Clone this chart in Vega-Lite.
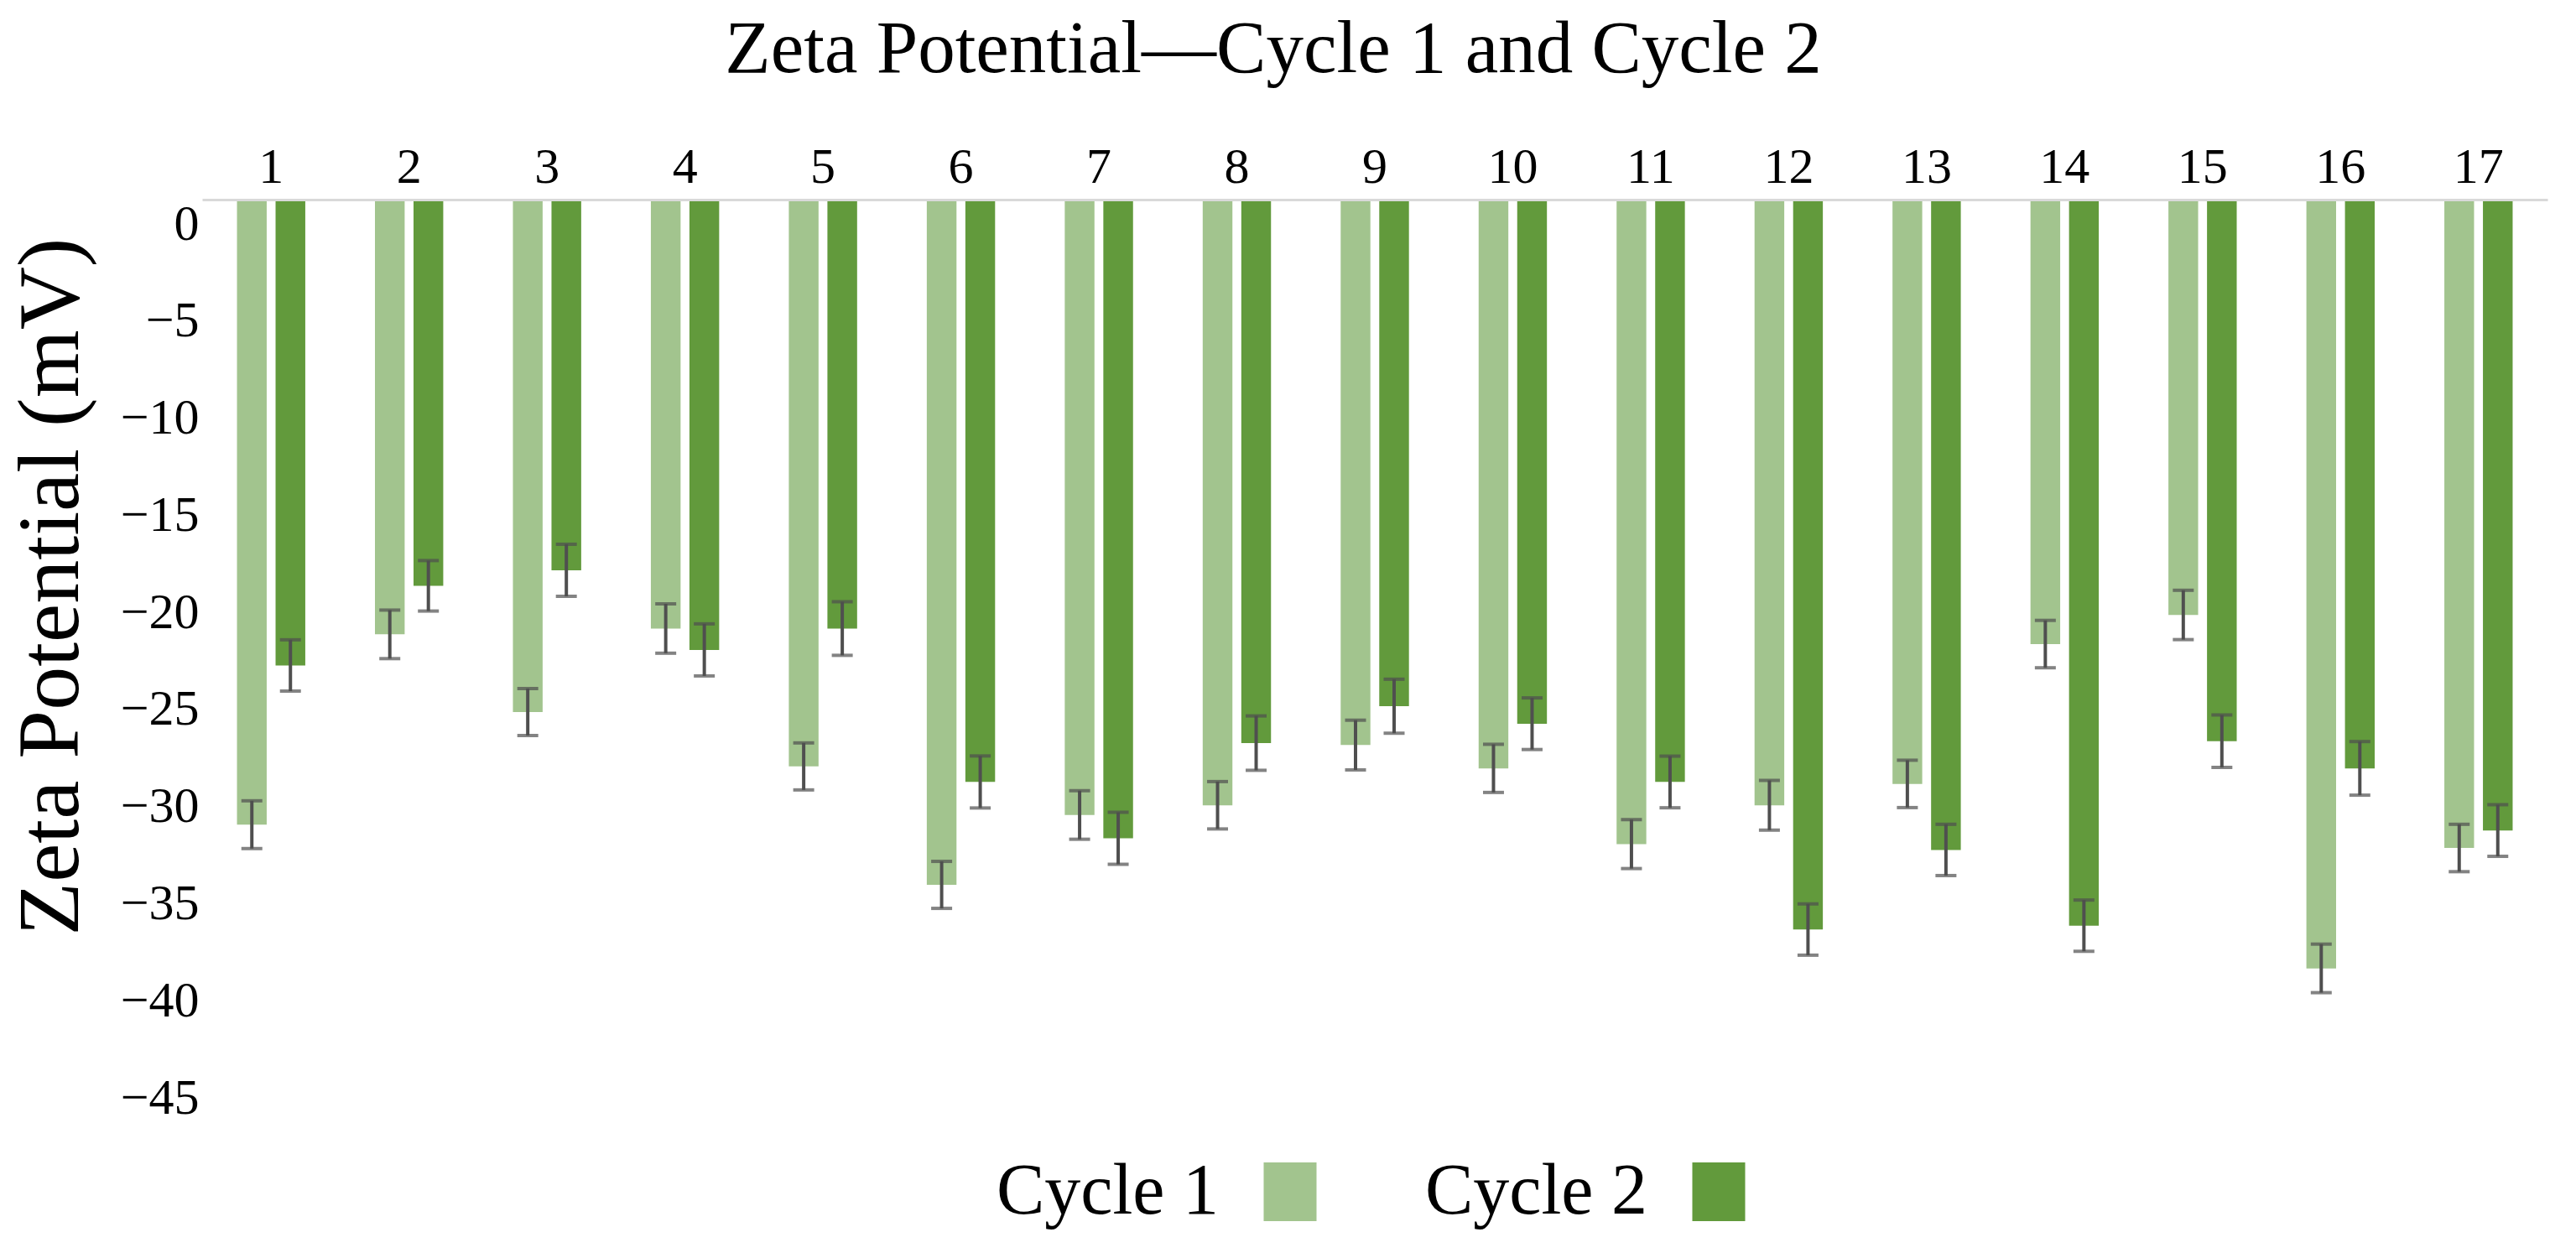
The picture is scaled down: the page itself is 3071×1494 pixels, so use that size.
{
  "$schema": "https://vega.github.io/schema/vega-lite/v6.json",
  "width": 2796,
  "height": 1042,
  "autosize": "none",
  "padding": {"left": 241, "top": 240, "right": 34, "bottom": 212},
  "background": "white",
  "title": {
    "text": "Zeta Potential—Cycle 1 and Cycle 2",
    "font": "Liberation Serif",
    "fontSize": 89,
    "fontWeight": "normal",
    "color": "black",
    "anchor": "middle",
    "frame": "group",
    "dx": -121,
    "baseline": "alphabetic",
    "offset": -6
  },
  "data": {
    "values": [
      {"sample": 1, "cycle": "Cycle 1", "value": -32.1, "lo": -33.33, "hi": -30.87},
      {"sample": 1, "cycle": "Cycle 2", "value": -23.9, "lo": -25.22, "hi": -22.58},
      {"sample": 2, "cycle": "Cycle 1", "value": -22.3, "lo": -23.55, "hi": -21.05},
      {"sample": 2, "cycle": "Cycle 2", "value": -19.8, "lo": -21.1, "hi": -18.5},
      {"sample": 3, "cycle": "Cycle 1", "value": -26.3, "lo": -27.51, "hi": -25.09},
      {"sample": 3, "cycle": "Cycle 2", "value": -19.0, "lo": -20.34, "hi": -17.66},
      {"sample": 4, "cycle": "Cycle 1", "value": -22.0, "lo": -23.27, "hi": -20.73},
      {"sample": 4, "cycle": "Cycle 2", "value": -23.1, "lo": -24.44, "hi": -21.76},
      {"sample": 5, "cycle": "Cycle 1", "value": -29.1, "lo": -30.31, "hi": -27.89},
      {"sample": 5, "cycle": "Cycle 2", "value": -22.0, "lo": -23.38, "hi": -20.62},
      {"sample": 6, "cycle": "Cycle 1", "value": -35.2, "lo": -36.41, "hi": -33.99},
      {"sample": 6, "cycle": "Cycle 2", "value": -29.9, "lo": -31.24, "hi": -28.56},
      {"sample": 7, "cycle": "Cycle 1", "value": -31.6, "lo": -32.85, "hi": -30.35},
      {"sample": 7, "cycle": "Cycle 2", "value": -32.8, "lo": -34.14, "hi": -31.46},
      {"sample": 8, "cycle": "Cycle 1", "value": -31.1, "lo": -32.32, "hi": -29.88},
      {"sample": 8, "cycle": "Cycle 2", "value": -27.9, "lo": -29.3, "hi": -26.5},
      {"sample": 9, "cycle": "Cycle 1", "value": -28.0, "lo": -29.28, "hi": -26.72},
      {"sample": 9, "cycle": "Cycle 2", "value": -26.0, "lo": -27.39, "hi": -24.61},
      {"sample": 10, "cycle": "Cycle 1", "value": -29.2, "lo": -30.44, "hi": -27.96},
      {"sample": 10, "cycle": "Cycle 2", "value": -26.9, "lo": -28.23, "hi": -25.57},
      {"sample": 11, "cycle": "Cycle 1", "value": -33.1, "lo": -34.36, "hi": -31.84},
      {"sample": 11, "cycle": "Cycle 2", "value": -29.9, "lo": -31.23, "hi": -28.57},
      {"sample": 12, "cycle": "Cycle 1", "value": -31.1, "lo": -32.38, "hi": -29.82},
      {"sample": 12, "cycle": "Cycle 2", "value": -37.5, "lo": -38.82, "hi": -36.18},
      {"sample": 13, "cycle": "Cycle 1", "value": -30.0, "lo": -31.22, "hi": -28.78},
      {"sample": 13, "cycle": "Cycle 2", "value": -33.4, "lo": -34.72, "hi": -32.08},
      {"sample": 14, "cycle": "Cycle 1", "value": -22.8, "lo": -24.02, "hi": -21.58},
      {"sample": 14, "cycle": "Cycle 2", "value": -37.3, "lo": -38.62, "hi": -35.98},
      {"sample": 15, "cycle": "Cycle 1", "value": -21.3, "lo": -22.57, "hi": -20.03},
      {"sample": 15, "cycle": "Cycle 2", "value": -27.8, "lo": -29.15, "hi": -26.45},
      {"sample": 16, "cycle": "Cycle 1", "value": -39.5, "lo": -40.75, "hi": -38.25},
      {"sample": 16, "cycle": "Cycle 2", "value": -29.2, "lo": -30.58, "hi": -27.82},
      {"sample": 17, "cycle": "Cycle 1", "value": -33.3, "lo": -34.52, "hi": -32.08},
      {"sample": 17, "cycle": "Cycle 2", "value": -32.4, "lo": -33.73, "hi": -31.07}
    ]
  },
  "encoding": {
    "x": {
      "field": "sample",
      "type": "ordinal",
      "scale": {"paddingInner": 0.505, "paddingOuter": 0.2525},
      "axis": {
        "orient": "top",
        "title": null,
        "labelAngle": 0,
        "labelFont": "Liberation Serif",
        "labelFontSize": 60,
        "labelColor": "black",
        "labelPadding": 8,
        "ticks": false,
        "tickSize": 0,
        "domainColor": "#d9d9d9",
        "domainWidth": 3,
        "offset": 2,
        "grid": false
      }
    },
    "xOffset": {
      "field": "cycle",
      "type": "nominal",
      "scale": {"paddingInner": 0.23, "paddingOuter": 0}
    }
  },
  "layer": [
    {
      "mark": {"type": "bar"},
      "encoding": {
        "y": {
          "field": "value",
          "type": "quantitative",
          "scale": {"domain": [-45, 0], "nice": false, "zero": true},
          "axis": {
            "values": [0, -5, -10, -15, -20, -25, -30, -35, -40, -45],
            "title": "Zeta Potential (mV)",
            "titleFont": "Liberation Serif",
            "titleFontSize": 104,
            "titleFontWeight": "normal",
            "titleColor": "black",
            "titleAngle": -90,
            "titleAlign": "center",
            "titleBaseline": "middle",
            "titleX": -180,
            "titleY": 459,
            "labelFont": "Liberation Serif",
            "labelFontSize": 60,
            "labelColor": "black",
            "labelPadding": 4,
            "labelOffset": 27,
            "ticks": false,
            "tickSize": 0,
            "domain": false,
            "grid": false
          }
        },
        "color": {
          "field": "cycle",
          "type": "nominal",
          "scale": {"domain": ["Cycle 1", "Cycle 2"], "range": ["#a2c48e", "#629a3c"]},
          "legend": {
            "title": null,
            "orient": "none",
            "direction": "horizontal",
            "legendX": 1254,
            "legendY": 1138,
            "padding": 0,
            "labelFont": "Liberation Serif",
            "labelFontSize": 86,
            "labelColor": "black",
            "labelLimit": 0,
            "labelAlign": "right",
            "labelOffset": -128,
            "symbolType": "M-0.9,-1H0.9V1H-0.9Z",
            "symbolSize": 4900,
            "symbolStrokeWidth": 0,
            "symbolOpacity": 1,
            "columnPadding": 128
          }
        }
      }
    },
    {
      "mark": {"type": "rule", "color": "#4f4f4f", "strokeWidth": 4},
      "encoding": {
        "y": {"field": "lo", "type": "quantitative"},
        "y2": {"field": "hi"}
      }
    },
    {
      "mark": {"type": "tick", "color": "#4f4f4f", "size": 25, "thickness": 4},
      "encoding": {
        "y": {"field": "lo", "type": "quantitative"}
      }
    },
    {
      "mark": {"type": "tick", "color": "#4f4f4f", "size": 25, "thickness": 4},
      "encoding": {
        "y": {"field": "hi", "type": "quantitative"}
      }
    }
  ],
  "config": {
    "view": {"stroke": null},
    "font": "Liberation Serif"
  }
}
